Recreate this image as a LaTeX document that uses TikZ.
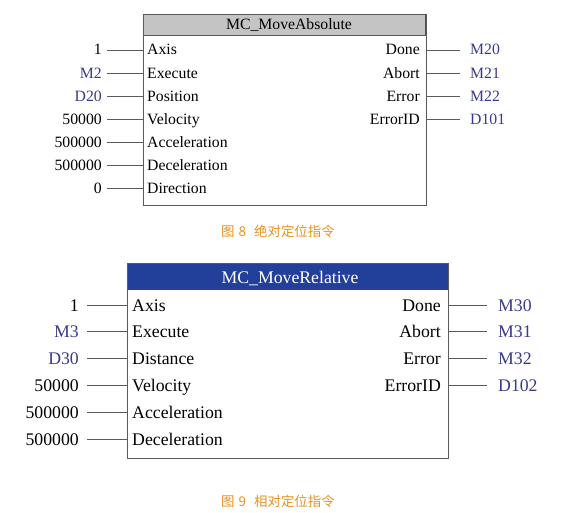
\documentclass[tikz,border=0pt]{standalone}
\usepackage{fontspec}
\setmainfont{Liberation Serif}
\newfontfamily\cjk{Noto Sans CJK SC}
\definecolor{valblue}{HTML}{3A3A8A}
\definecolor{wiregray}{HTML}{5A5A5A}
\definecolor{hdrgray}{HTML}{C4C4C4}
\definecolor{hdrblue}{HTML}{22409A}
\definecolor{capor}{HTML}{E8931E}
\begin{document}
\begin{tikzpicture}[x=1bp,y=-1bp,
  fbox/.style={draw=wiregray, line width=0.9bp, anchor=north west, inner sep=0pt},
  lblA/.style={inner sep=0pt, font=\fontsize{15.8}{15.8}\selectfont},
  lblB/.style={inner sep=0pt, font=\fontsize{17.8}{17.8}\selectfont},
  vb/.style={text=valblue},
  wire/.style={draw=wiregray, line width=0.8bp},
  figcap/.style={inner sep=0pt, text=capor, font=\cjk\fontsize{13.5}{13.5}\selectfont}
]
\useasboundingbox (0,0) rectangle (563,513);
\fill[white] (0,0) rectangle (563,513);

% ---------- Box 1 ----------
\node[fbox, minimum width=283bp, minimum height=191bp] (box1) at (143,14) {};
\coordinate (h1) at (426,35);
\fill[hdrgray] (box1.north west) rectangle (h1);
\draw[wiregray, line width=0.9bp] (box1.north west) rectangle (box1.south east);
\draw[wiregray, line width=0.8bp] (143,35) -- (h1);
\draw[black!70, line width=1.6bp] (425.5,14) -- (425.5,35);
\node[lblA, anchor=base] (t1) at (289,30) {MC\_MoveAbsolute};

% inputs
\foreach \i/\v/\p/\c in {0/1/Axis/black, 1/M2/Execute/valblue, 2/D20/Position/valblue, 3/50000/Velocity/black, 4/500000/Acceleration/black, 5/500000/Deceleration/black, 6/0/Direction/black}{
  \node[lblA, anchor=base east, text=\c] (ai\i) at (102,{55+23.1*\i}) {\v};
  \node[lblA, anchor=base west] (pi\i) at (147,{55+23.1*\i}) {\p};
  \draw[wire] ([xshift=5bp,yshift=5bp]ai\i.base east) -- ([yshift=5bp]box1.west |- pi\i.base);
}
% outputs
\foreach \i/\p/\v in {0/Done/M20, 1/Abort/M21, 2/Error/M22, 3/ErrorID/D101}{
  \node[lblA, anchor=base east] (po\i) at (420,{55+23.1*\i}) {\p};
  \node[lblA, anchor=base west, vb] (ao\i) at (470,{55+23.1*\i}) {\v};
  \draw[wire] ([yshift=5bp]box1.east |- po\i.base) -- ([xshift=-10bp,yshift=5bp]ao\i.base west);
}
\node[figcap] (c1) at (278,231) {图\hspace{4bp}8\hspace{8bp}绝对定位指令};

% ---------- Box 2 ----------
\node[fbox, minimum width=321bp, minimum height=195bp] (box2) at (127,263) {};
\coordinate (h2) at (448,290);
\fill[hdrblue] (box2.north west) rectangle (h2);
\draw[wiregray, line width=0.9bp] (box2.north west) rectangle (box2.south east);
\node[lblB, anchor=base, text=white] (t2) at (290,283) {MC\_MoveRelative};

\foreach \i/\v/\p/\c in {0/1/Axis/black, 1/M3/Execute/valblue, 2/D30/Distance/valblue, 3/50000/Velocity/black, 4/500000/Acceleration/black, 5/500000/Deceleration/black}{
  \node[lblB, anchor=base east, text=\c] (bi\i) at (79,{311+26.8*\i}) {\v};
  \node[lblB, anchor=base west] (qi\i) at (132,{311+26.8*\i}) {\p};
  \draw[wire] ([xshift=8bp,yshift=6bp]bi\i.base east) -- ([yshift=6bp]box2.west |- qi\i.base);
}
\foreach \i/\p/\v in {0/Done/M30, 1/Abort/M31, 2/Error/M32, 3/ErrorID/D102}{
  \node[lblB, anchor=base east] (qo\i) at (441,{311+26.8*\i}) {\p};
  \node[lblB, anchor=base west, vb] (bo\i) at (498,{311+26.8*\i}) {\v};
  \draw[wire] ([yshift=6bp]box2.east |- qo\i.base) -- ([xshift=-11bp,yshift=6bp]bo\i.base west);
}
\node[figcap] (c2) at (278,501) {图\hspace{4bp}9\hspace{8bp}相对定位指令};
\end{tikzpicture}
\end{document}
